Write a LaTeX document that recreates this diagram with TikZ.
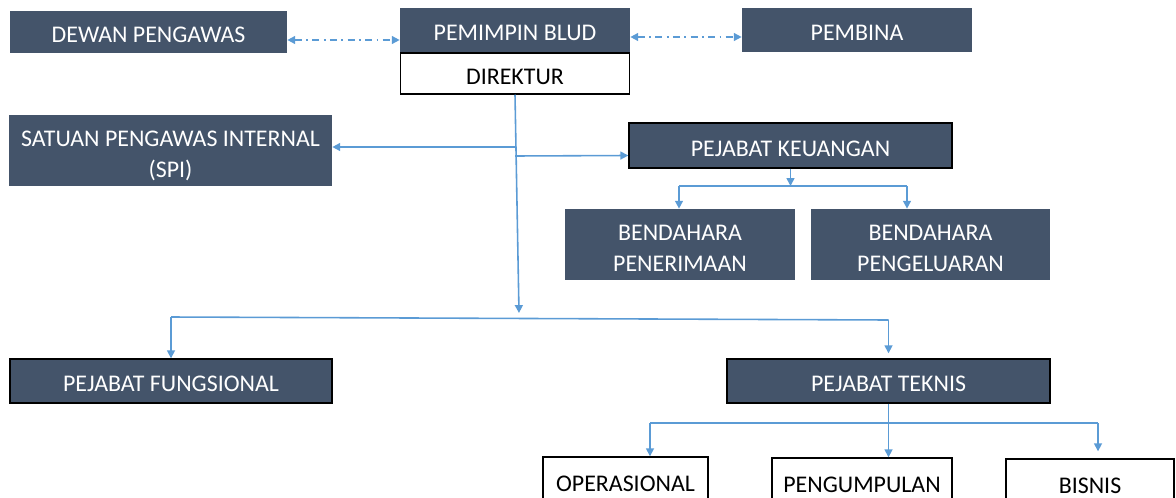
\documentclass[tikz,border=0pt]{standalone}
\usepackage{fontspec}
\setmainfont{Carlito}
\usepackage{tikz}
\usetikzlibrary{arrows.meta}
\definecolor{slate}{HTML}{44546A}
\definecolor{link}{HTML}{5B9BD5}

\begin{document}
\begin{tikzpicture}[x=0.02cm, y=-0.02cm,
	box/.style={fill=slate, text=white, inner sep=0pt, align=center, text height=12pt, text depth=0pt, font=\fontsize{13.6}{17.5}\selectfont},
	twoline/.style={text height=31pt},
	framed/.style={box, draw=black, line width=0.8pt},
	plain/.style={draw=black, fill=white, text=black, line width=0.8pt, inner sep=0pt, align=center, text height=12pt, text depth=0pt, font=\fontsize{13.6}{17.5}\selectfont},
	wire/.style={link, line width=0.9pt},
	dotdash/.style={dash pattern=on 4pt off 2.5pt on 1pt off 2.5pt},
	tip/.style={-{Triangle[length=4.5pt, width=4.5pt]}},
	tips/.style={{Triangle[length=4.5pt, width=4.5pt]}-{Triangle[length=4.5pt, width=4.5pt]}}]
	\useasboundingbox (0,0) rectangle (1176,497);

	\node[box, minimum width=5.54cm, minimum height=0.84cm] (dewan) at (148.5,32) {DEWAN PENGAWAS};
	\node[box, minimum width=4.6cm, minimum height=0.88cm] (blud) at (515,30) {PEMIMPIN BLUD};
	\node[plain, minimum width=4.58cm, minimum height=0.82cm, anchor=north] (direktur) at (blud.south) {DIREKTUR};
	\node[box, minimum width=4.6cm, minimum height=0.88cm] (pembina) at (857,30) {PEMBINA};
	\node[box, twoline, minimum width=6.46cm, minimum height=1.42cm] (spi) at (170.5,150.5) {SATUAN PENGAWAS INTERNAL\\(SPI)};
	\node[framed, minimum width=6.46cm, minimum height=0.9cm] (keuangan) at (790.5,145.5) {PEJABAT KEUANGAN};
	\node[box, twoline, minimum width=4.6cm, minimum height=1.42cm] (terima) at (680,244.5) {BENDAHARA\\PENERIMAAN};
	\node[box, twoline, minimum width=4.78cm, minimum height=1.42cm] (keluar) at (930.5,244.5) {BENDAHARA\\PENGELUARAN};
	\node[framed, minimum width=6.44cm, minimum height=0.88cm] (fungsi) at (171,381) {PEJABAT FUNGSIONAL};
	\node[framed, minimum width=6.46cm, minimum height=0.88cm] (teknis) at (888.5,381) {PEJABAT TEKNIS};
	\node[plain, minimum width=3.3cm, minimum height=0.96cm] (oper) at (625.5,481) {OPERASIONAL};
	\node[plain, minimum width=3.6cm, minimum height=0.96cm] (kumpul) at (862,482) {PENGUMPULAN};
	\node[plain, minimum width=3.36cm, minimum height=0.96cm] (bisnis) at (1090,483) {BISNIS};

	\draw[wire, dotdash, tips] (dewan.east |- 0,40) -- (blud.west |- 0,40);
	\draw[wire, dotdash, tips] (blud.east |- 0,37) -- (pembina.west |- 0,37);

	\coordinate (hub) at (519,313);
	\draw[wire, tip] (direktur.south) -- (hub);
	\draw[wire, tip] (direktur.south |- 0,147) -- (spi.east |- 0,147);
	\draw[wire, tip] (direktur.south |- 0,156) -- ([yshift=-0.2cm]keuangan.west);

	\coordinate (kl) at (679,186);
	\coordinate (kr) at (907,186);
	\draw[wire, tip] (keuangan.south) -- (keuangan.south |- kl);
	\draw[wire] (kl) -- (kr);
	\draw[wire, tip] (kl) -- (kl |- terima.north);
	\draw[wire, tip] (kr) -- (kr |- keluar.north);

	\coordinate (ll) at (fungsi.north |- 0,317);
	\coordinate (lr) at (teknis.north |- 0,320);
	\draw[wire] (ll) -- (lr);
	\draw[wire, tip] (ll) -- (fungsi.north);
	\draw[wire, tip] (lr) -- ([yshift=0.1cm]teknis.north);

	\coordinate (tl) at (650,423);
	\coordinate (tr) at (1098,423);
	\draw[wire] (tl) -- (tr);
	\draw[wire, tip] (teknis.south) -- (teknis.south |- kumpul.north);
	\draw[wire, tip] (tl) -- (tl |- oper.north);
	\draw[wire, tip] (tr) -- ([yshift=0.14cm]tr |- bisnis.north);
\end{tikzpicture}
\end{document}
